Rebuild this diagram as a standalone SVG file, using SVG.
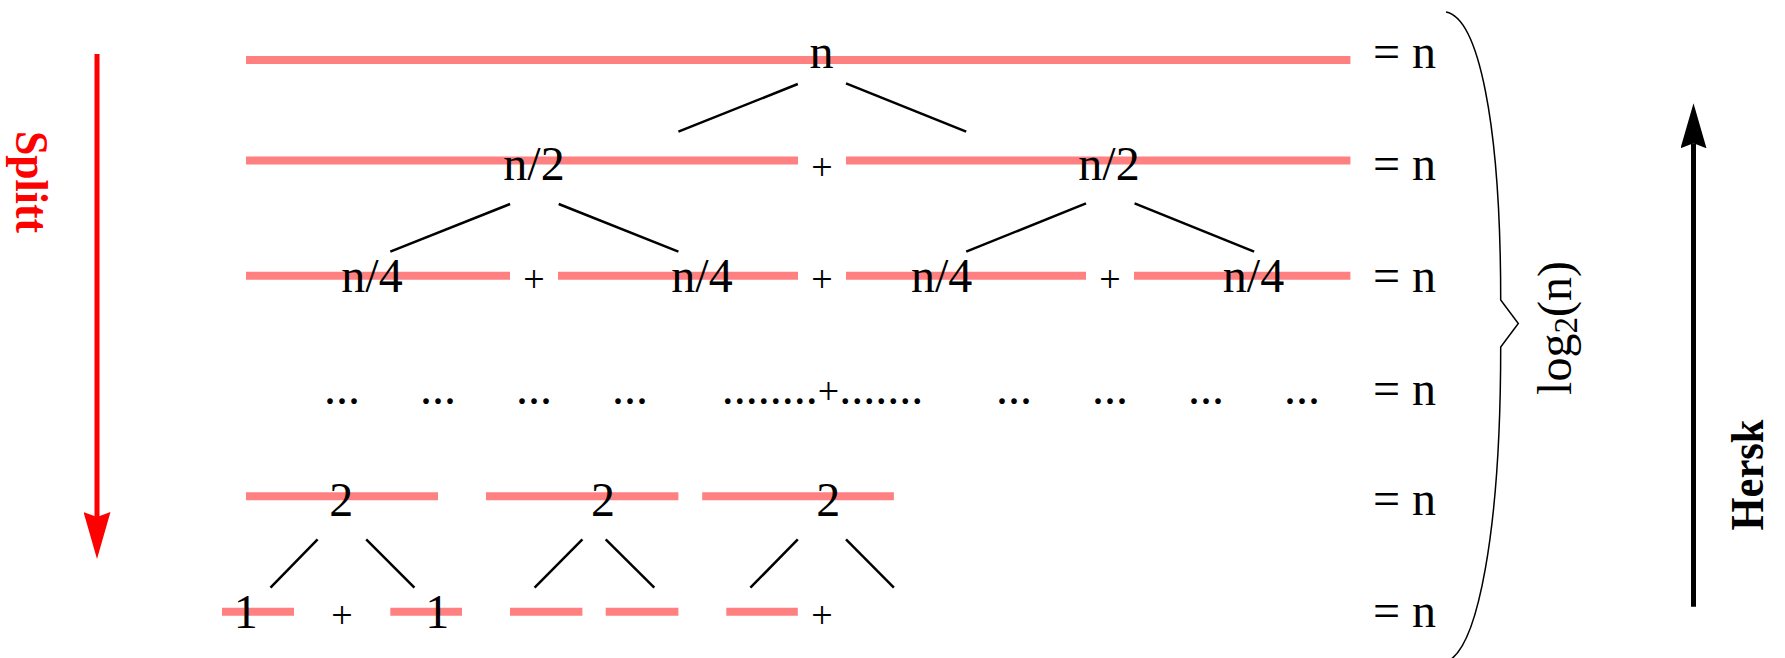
<svg xmlns="http://www.w3.org/2000/svg" width="1785" height="658" viewBox="0 0 1785 658">
  <style>
    .t{font-family:"Liberation Serif","Times New Roman",serif;font-size:48px;fill:#000}
    .m{text-anchor:middle}
    .p{font-size:38px}
    .bar{stroke:#FF8080;stroke-width:8;fill:none}
    .edge{stroke:#000;stroke-width:2.5;fill:none}
    .bold{font-weight:bold}
  </style>
  <defs>
    <marker id="headRed" markerUnits="userSpaceOnUse" viewBox="0 0 47 27" markerWidth="47" markerHeight="27" refX="5" refY="13.5" orient="auto">
      <path d="M0,0 L47,13.5 L0,27 L5,13.5 z" fill="#FF0000"/>
    </marker>
    <marker id="headBlack" markerUnits="userSpaceOnUse" viewBox="0 0 45 26" markerWidth="45" markerHeight="26" refX="5" refY="13" orient="auto">
      <path d="M0,0 L45,13 L0,26 L5,13 z" fill="#000"/>
    </marker>
  </defs>
  <rect width="1785" height="658" fill="#fff"/>

  <!-- split direction -->
  <g id="split">
    <line x1="97" y1="54" x2="97" y2="517" stroke="#FF0000" stroke-width="5" marker-end="url(#headRed)"/>
    <text class="t bold m" transform="translate(16,182) rotate(90)" font-size="46" fill="#FF0000" style="fill:#FF0000;font-size:46px" textLength="102" lengthAdjust="spacingAndGlyphs">Splitt</text>
  </g>

  <!-- level 0 -->
  <g id="level0">
    <line class="bar" x1="246" y1="60" x2="1350.4" y2="60"/>
    <text class="t m" x="821.6" y="68">n</text>
  </g>

  <!-- level 1 -->
  <g id="level1">
    <line class="bar" x1="246" y1="160.5" x2="798" y2="160.5"/>
    <line class="bar" x1="846" y1="160.5" x2="1350.4" y2="160.5"/>
    <text class="t m" x="534" y="180">n/2</text>
    <text class="t p m" x="822" y="180">+</text>
    <text class="t m" x="1109" y="180">n/2</text>
  </g>

  <!-- level 2 -->
  <g id="level2">
    <line class="bar" x1="246" y1="275.7" x2="510" y2="275.7"/>
    <line class="bar" x1="558" y1="275.7" x2="798" y2="275.7"/>
    <line class="bar" x1="846" y1="275.7" x2="1086" y2="275.7"/>
    <line class="bar" x1="1134" y1="275.7" x2="1350.4" y2="275.7"/>
    <text class="t m" x="372" y="291.5">n/4</text>
    <text class="t p m" x="534" y="292">+</text>
    <text class="t m" x="702" y="291.5">n/4</text>
    <text class="t p m" x="822" y="292">+</text>
    <text class="t m" x="941.6" y="291.5">n/4</text>
    <text class="t p m" x="1110" y="292">+</text>
    <text class="t m" x="1253.5" y="291.5">n/4</text>
  </g>

  <!-- intermediate levels -->
  <g id="levelDots">
    <text class="t m" x="342" y="404">...</text>
    <text class="t m" x="438" y="404">...</text>
    <text class="t m" x="534" y="404">...</text>
    <text class="t m" x="630" y="404">...</text>
    <text class="t" x="721.7" y="404">........<tspan class="p">+</tspan>.......</text>
    <text class="t m" x="1014" y="404">...</text>
    <text class="t m" x="1110" y="404">...</text>
    <text class="t m" x="1206" y="404">...</text>
    <text class="t m" x="1302" y="404">...</text>
  </g>

  <!-- pairs -->
  <g id="levelPairs">
    <line class="bar" x1="246" y1="496.3" x2="438" y2="496.3"/>
    <line class="bar" x1="486" y1="496.3" x2="678.4" y2="496.3"/>
    <line class="bar" x1="702.2" y1="496.3" x2="893.9" y2="496.3"/>
    <text class="t m" x="341.3" y="516">2</text>
    <text class="t m" x="603" y="516">2</text>
    <text class="t m" x="828.3" y="516">2</text>
  </g>

  <!-- single elements -->
  <g id="levelSingles">
    <line class="bar" x1="222" y1="611.7" x2="294" y2="611.7"/>
    <line class="bar" x1="390.3" y1="611.7" x2="462" y2="611.7"/>
    <line class="bar" x1="510" y1="611.7" x2="582.4" y2="611.7"/>
    <line class="bar" x1="605.7" y1="611.7" x2="678.4" y2="611.7"/>
    <line class="bar" x1="726.3" y1="611.7" x2="797.8" y2="611.7"/>
    <text class="t m" x="245.8" y="627.5">1</text>
    <text class="t p m" x="342" y="628">+</text>
    <text class="t m" x="437.2" y="627.5">1</text>
    <text class="t p m" x="822" y="628">+</text>
  </g>

  <!-- tree edges -->
  <g id="connectors">
    <line class="edge" x1="797.8" y1="84" x2="678.4" y2="131.7"/>
    <line class="edge" x1="846" y1="83.3" x2="966.2" y2="131.7"/>
    <line class="edge" x1="510.1" y1="204" x2="390.3" y2="251.7"/>
    <line class="edge" x1="558.7" y1="204" x2="678.4" y2="251.7"/>
    <line class="edge" x1="1086" y1="203.3" x2="966.2" y2="251.7"/>
    <line class="edge" x1="1134.6" y1="203.3" x2="1254.1" y2="251.7"/>
    <line class="edge" x1="317.6" y1="539.3" x2="270.5" y2="587.7"/>
    <line class="edge" x1="366.2" y1="539.3" x2="414.4" y2="587.7"/>
    <line class="edge" x1="582.4" y1="539.3" x2="534.6" y2="587.7"/>
    <line class="edge" x1="605.7" y1="539.3" x2="654.3" y2="587.7"/>
    <line class="edge" x1="797.8" y1="539.3" x2="750.4" y2="587.7"/>
    <line class="edge" x1="846" y1="539.3" x2="893.9" y2="587.7"/>
  </g>

  <!-- level sums -->
  <g id="sums">
    <text class="t" x="1373" y="68">= n</text>
    <text class="t" x="1373" y="180">= n</text>
    <text class="t" x="1373" y="291.5">= n</text>
    <text class="t" x="1373" y="405">= n</text>
    <text class="t" x="1373" y="515">= n</text>
    <text class="t" x="1373" y="626.5">= n</text>
  </g>

  <!-- depth brace -->
  <g id="depth">
    <path d="M1446,12 C1478,18 1500.7,120 1500.7,300 L1518.3,323.5 L1500.7,347 C1500.7,530 1478,650 1446,662" fill="none" stroke="#000" stroke-width="1.5"/>
    <text class="t m" transform="translate(1571,328) rotate(-90)">log<tspan style="font-size:33px" dy="6">2</tspan><tspan dy="-6">(n)</tspan></text>
  </g>

  <!-- merge direction -->
  <g id="merge">
    <line x1="1693.5" y1="606.7" x2="1693.5" y2="143.3" stroke="#000" stroke-width="5" marker-end="url(#headBlack)"/>
    <text class="t bold m" transform="translate(1763,475) rotate(-90)" style="font-size:46px" textLength="111" lengthAdjust="spacingAndGlyphs">Hersk</text>
  </g>
</svg>
